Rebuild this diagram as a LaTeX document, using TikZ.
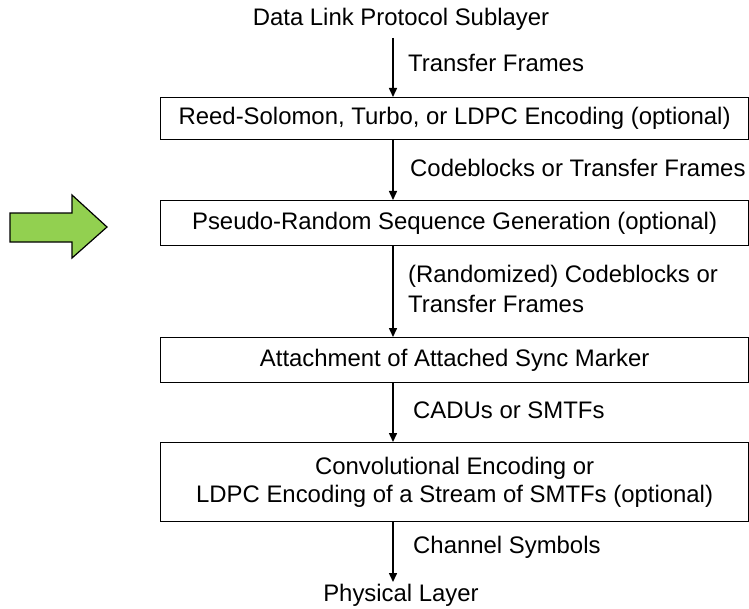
\documentclass[tikz,border=0pt]{standalone}
\usepackage{fontspec}
\setmainfont{Liberation Sans}
\usetikzlibrary{arrows.meta}
\definecolor{arrowgreen}{HTML}{92D050}
\begin{document}
\begin{tikzpicture}[x=1bp,y=-1bp,
  stagebox/.style={draw=black,line width=1.2bp,minimum width=588bp,anchor=north west,inner sep=0pt,align=center,font=\fontsize{24}{28}\selectfont},
  lbl/.style={anchor=west,font=\fontsize{24}{30}\selectfont,align=left,inner sep=0pt},
  plain/.style={font=\fontsize{24}{28}\selectfont,inner sep=0pt},
  flow/.style={line width=1.5bp,-{Triangle[length=9bp,width=8bp]}}]
\useasboundingbox (0,0) rectangle (749,609);
\node[plain] (top) at (401,19) {Data Link Protocol Sublayer};
\node[stagebox,minimum height=42bp] (b1) at (160,97) {Reed-Solomon, Turbo, or LDPC Encoding (optional)};
\node[stagebox,minimum height=45bp] (b2) at (160,200) {Pseudo-Random Sequence Generation (optional)};
\node[stagebox,minimum height=45bp] (b3) at (160,337) {Attachment of Attached Sync Marker};
\node[stagebox,minimum height=79bp] (b4) at (160,442) {Convolutional Encoding or\\LDPC Encoding of a Stream of SMTFs (optional)};
\node[plain] (bot) at (401,595) {Physical Layer};
\coordinate (a0) at (393,38);
\coordinate (a5) at (393,582);
\draw[flow] (a0) -- (a0 |- b1.north);
\draw[flow] (a0 |- b1.south) -- (a0 |- b2.north);
\draw[flow] (a0 |- b2.south) -- (a0 |- b3.north);
\draw[flow] (a0 |- b3.south) -- (a0 |- b4.north);
\draw[flow] (a0 |- b4.south) -- (a5);
\node[lbl] (l1) at (408,63) {Transfer Frames};
\node[lbl] (l2) at (410,168) {Codeblocks or Transfer Frames};
\node[lbl] (l3) at (408,289) {(Randomized) Codeblocks or\\Transfer Frames};
\node[lbl] (l4) at (413,410) {CADUs or SMTFs};
\node[lbl] (l5) at (413,547) {Channel Symbols};
\draw[fill=arrowgreen,line width=1.2bp] (10,213) -- (72,213) -- (72,195) -- (107,227) -- (72,258) -- (72,242) -- (10,242) -- cycle;
\end{tikzpicture}
\end{document}
